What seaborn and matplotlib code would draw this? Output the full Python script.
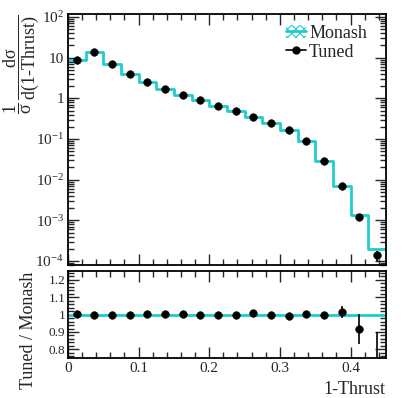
import numpy as np
import pandas as pd
import matplotlib
matplotlib.use("Agg")
import matplotlib.pyplot as plt
import seaborn as sns
from matplotlib.ticker import FixedLocator, MultipleLocator, FuncFormatter, LogLocator, NullFormatter
from matplotlib.patches import Patch
from matplotlib.lines import Line2D

# ==========================================
# DATA
# ==========================================
bin_edges = np.round(np.arange(0.0, 0.45001, 0.025), 4)
tuned = [9.0, 13.4, 6.8, 4.0, 2.54, 1.73, 1.21, 0.89, 0.65, 0.485,
         0.351, 0.250, 0.165, 0.090, 0.0291, 0.0071, 0.00122, 0.000140]
ratio = [1.006, 0.998, 0.996, 0.998, 1.006, 1.002, 1.002, 0.998, 1.000, 0.998,
         1.008, 0.997, 0.990, 1.006, 0.996, 1.013, 0.917, 0.71]
ratio_err = [0.003, 0.003, 0.003, 0.003, 0.003, 0.003, 0.003, 0.003, 0.003, 0.003,
             0.004, 0.004, 0.004, 0.005, 0.008, 0.035, 0.087, 0.19]
monash_rel_err = [0.004, 0.004, 0.004, 0.004, 0.004, 0.004, 0.004, 0.004, 0.004, 0.004,
                  0.005, 0.005, 0.005, 0.006, 0.01, 0.02, 0.04, 0.06]

centers = 0.5 * (bin_edges[:-1] + bin_edges[1:])
tuned = np.array(tuned)
ratio = np.array(ratio)
monash = tuned / ratio
tuned_err = np.array(ratio_err) * monash
mon_err = np.array(monash_rel_err)

CYAN = "#1fcdcd"

sns.set_theme(style="ticks")
plt.rcParams["font.family"] = ["Liberation Serif", "DejaVu Serif"]
plt.rcParams["mathtext.fontset"] = "custom"
plt.rcParams["mathtext.rm"] = "Liberation Serif"
plt.rcParams["mathtext.it"] = "Liberation Serif:italic"
plt.rcParams["mathtext.bf"] = "Liberation Serif:bold"
plt.rcParams["font.size"] = 13
plt.rcParams["hatch.linewidth"] = 0.8

fig = plt.figure(figsize=(4.07, 3.98), dpi=100)
ax = fig.add_axes([0.167, 0.334, 0.781, 0.631])
axr = fig.add_axes([0.167, 0.1005, 0.781, 0.218])

# ==========================================
# MAIN PANEL
# ==========================================
step_df = pd.DataFrame({"x": bin_edges, "y": np.append(monash, monash[-1])})
lo = np.append(monash * (1 - mon_err), monash[-1] * (1 - mon_err[-1]))
hi = np.append(monash * (1 + mon_err), monash[-1] * (1 + mon_err[-1]))
ax.fill_between(bin_edges, lo, hi, step="post", facecolor="none",
                edgecolor=CYAN, hatch="xxxx", linewidth=0)
sns.lineplot(data=step_df, x="x", y="y", drawstyle="steps-post", color=CYAN,
             lw=2.0, estimator=None, ax=ax, legend=False)
ax.errorbar(centers, tuned, yerr=tuned_err, fmt="none", ecolor="black", elinewidth=1.2)
sns.scatterplot(x=centers, y=tuned, color="black", s=30, edgecolor="black", zorder=5, ax=ax)

ax.set_yscale("log")
ax.set_ylim(10 ** -4.1, 10 ** 2.075)
ax.set_xlim(0, 0.45)


def log_fmt(v, pos):
    e = int(round(np.log10(v)))
    if e == 0:
        return "1"
    if e == 1:
        return "10"
    return r"$\mathregular{10^{%d}}$" % e


ax.yaxis.set_major_locator(LogLocator(base=10, numticks=10))
ax.yaxis.set_minor_locator(LogLocator(base=10, subs=np.arange(2, 10), numticks=20))
ax.yaxis.set_major_formatter(FuncFormatter(log_fmt))
ax.yaxis.set_minor_formatter(NullFormatter())
ax.set_ylabel(r"$\dfrac{1}{\mathrm{σ}}\,\dfrac{\mathrm{dσ}}{\mathrm{d(1‐Thrust)}}$",
              loc="top", fontsize=13)
ax.yaxis.label.set_va("center")
ax.yaxis.set_label_coords(-0.148, 0.995)
ax.set_xlabel("")

handles = [(Patch(facecolor="none", edgecolor=CYAN, hatch="xxxx", lw=0),
            Line2D([], [], color=CYAN, lw=2)),
           Line2D([], [], color="black", marker="o", markersize=5, lw=1.2)]
ax.legend(handles, ["Monash", "Tuned"], loc="upper right", frameon=False,
          fontsize=13, handlelength=1.1, handletextpad=0.2, labelspacing=0.1,
          borderaxespad=0.2, bbox_to_anchor=(0.975, 1.0))

# ==========================================
# RATIO PANEL
# ==========================================
axr.fill_between([0, 0.45], 0.996, 1.004, color=CYAN, alpha=0.35, lw=0)
sns.lineplot(x=[0, 0.45], y=[1, 1], color=CYAN, lw=2.0, ax=axr)
axr.errorbar(centers, ratio, yerr=ratio_err, fmt="none", ecolor="black", elinewidth=1.2)
sns.scatterplot(x=centers, y=ratio, color="black", s=30, edgecolor="black", zorder=5, ax=axr)
axr.set_ylim(0.75, 1.25)
axr.set_xlim(0, 0.45)
axr.yaxis.set_major_locator(FixedLocator([0.8, 0.9, 1.0, 1.1, 1.2]))
axr.yaxis.set_minor_locator(MultipleLocator(0.02))
axr.yaxis.set_major_formatter(FuncFormatter(lambda v, p: "%g" % round(v, 2)))
axr.set_ylabel("Tuned / Monash", loc="top", fontsize=13)
axr.yaxis.label.set_va("center")
axr.yaxis.set_label_coords(-0.123, 1.0)
axr.set_xlabel("1-Thrust", loc="right", fontsize=13)

for a in (ax, axr):
    a.xaxis.set_major_locator(MultipleLocator(0.1))
    a.xaxis.set_minor_locator(MultipleLocator(0.02))
    a.tick_params(which="both", direction="in", top=True, right=True, labelsize=11,
                  width=1.0, pad=3)
    a.tick_params(which="major", length=8)
    a.tick_params(which="minor", length=4)
    for s in a.spines.values():
        s.set_linewidth(1.3)
        s.set_color("black")
ax.tick_params(labelbottom=False)
axr.tick_params(axis="y", labelsize=9.5, pad=2)
axr.xaxis.set_major_formatter(FuncFormatter(lambda v, p: "%g" % round(v, 2)))

fig.savefig("out.png", dpi=100)
